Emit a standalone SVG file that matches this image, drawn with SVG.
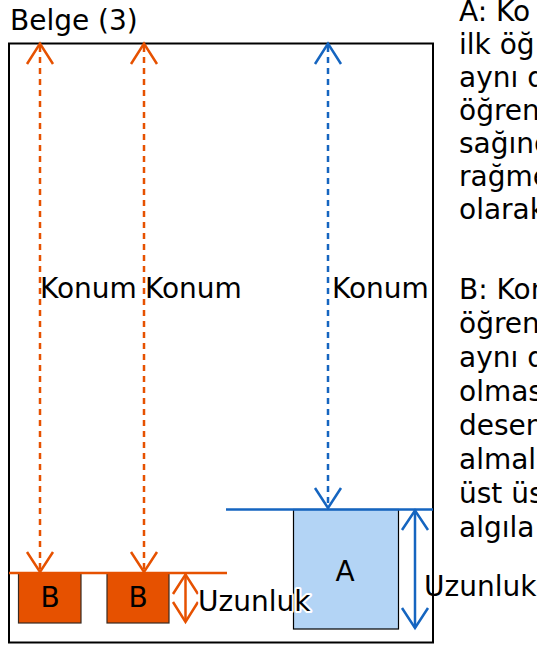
<svg xmlns="http://www.w3.org/2000/svg" width="537" height="646" viewBox="0 0 537 646">
<style>
text{font-family:"DejaVu Sans","Liberation Sans",sans-serif;font-size:28px;fill:#000}
.or{stroke:#E65100;fill:none;stroke-width:2.5}
.bl{stroke:#1565C0;fill:none;stroke-width:2.5}
.dash{stroke-dasharray:6 5}
.halo{stroke:#fff;stroke-width:4;paint-order:stroke;stroke-linejoin:round}
</style>
<g id="document">
<rect x="9" y="43.5" width="424" height="599" fill="#fff" stroke="#000" stroke-width="2"/>
<text x="10" y="30">Belge (3)</text>
</g>
<g id="nodeB1"><rect x="18.5" y="573" width="62.5" height="50" fill="#E65100" stroke="#3a2a20" stroke-width="1.2"/><text x="50" y="607" text-anchor="middle">B</text></g>
<g id="nodeB2"><rect x="107" y="573" width="62" height="50" fill="#E65100" stroke="#3a2a20" stroke-width="1.2"/><text x="138" y="607" text-anchor="middle">B</text></g>
<g id="nodeA"><rect x="293.5" y="509.5" width="105" height="119.5" fill="#B3D4F5" stroke="#000" stroke-width="1.2"/><text x="345" y="581" text-anchor="middle">A</text></g>
<g id="connectors">
<line class="or" x1="9" y1="573" x2="227" y2="573"/>
<line class="bl" x1="226" y1="509.5" x2="433" y2="509.5"/>
<line class="or dash" x1="40" y1="46" x2="40" y2="570"/>
<polyline class="or" points="27,64 40,43.5 53,64"/>
<polyline class="or" points="27,552 40,572 53,552"/>
<line class="or dash" x1="144" y1="46" x2="144" y2="570"/>
<polyline class="or" points="131,64 144,43.5 157,64"/>
<polyline class="or" points="131,552 144,572 157,552"/>
<line class="bl dash" x1="328" y1="46" x2="328" y2="506"/>
<polyline class="bl" points="315,64 328,43.5 341,64"/>
<polyline class="bl" points="315,488 328,508 341,488"/>
<line class="or" x1="185.5" y1="574" x2="185.5" y2="622"/>
<polyline class="or" points="173,594 185.5,574.5 198,594"/>
<polyline class="or" points="173,602 185.5,622 198,602"/>
<line class="bl" x1="415" y1="510" x2="415" y2="628"/>
<polyline class="bl" points="402,530 415,510.5 428,530"/>
<polyline class="bl" points="402,608 415,628 428,608"/>
</g>
<g id="labels">
<text x="40" y="298">Konum</text>
<text x="145" y="298">Konum</text>
<text x="332" y="298">Konum</text>
<text x="198" y="611" class="halo">Uzunluk</text>
<text x="424" y="596">Uzunluk</text>
</g>
<g id="noteA">
<text x="459" y="21">A: Ko</text>
<text x="459" y="54">ilk öğ</text>
<text x="459" y="87">aynı d</text>
<text x="459" y="120">öğren</text>
<text x="459" y="153">sağınd</text>
<text x="459" y="186">rağme</text>
<text x="459" y="219">olarak</text>
</g>
<g id="noteB">
<text x="459" y="299">B: Kon</text>
<text x="459" y="333">öğren</text>
<text x="459" y="367">aynı d</text>
<text x="459" y="401">olmas</text>
<text x="459" y="435">desen</text>
<text x="459" y="469">almal</text>
<text x="459" y="503">üst üs</text>
<text x="459" y="537">algıla</text>
</g>
</svg>
